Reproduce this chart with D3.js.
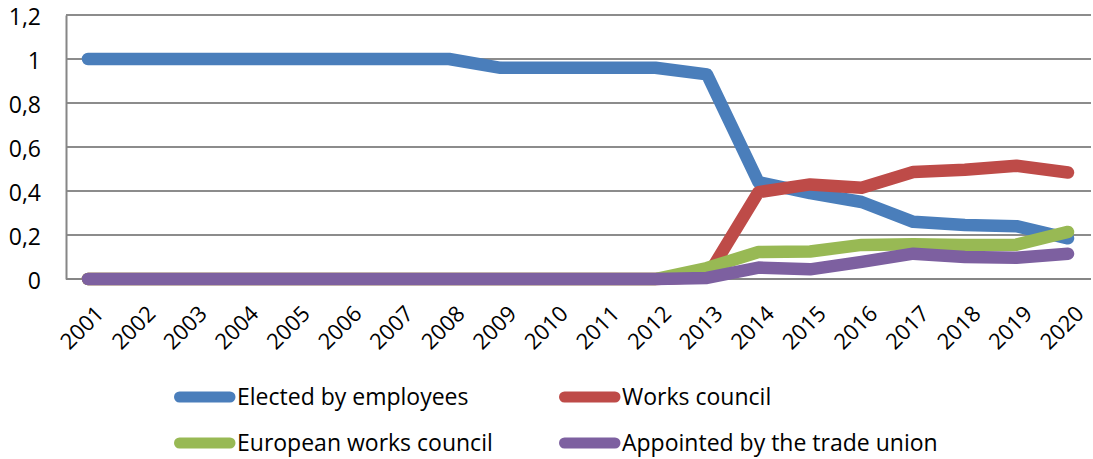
<!DOCTYPE html>
<html>
<head>
<meta charset="utf-8">
<script src="https://cdn.jsdelivr.net/npm/d3@7"></script>
<style>
  body { margin: 0; background: #fff; }
  svg { display: block; font-family: "Open Sans", Lato, sans-serif; }
</style>
</head>
<body>
<svg id="chart" width="1093" height="459"></svg>
<script>
// data
const years = ["2001","2002","2003","2004","2005","2006","2007","2008","2009","2010",
               "2011","2012","2013","2014","2015","2016","2017","2018","2019","2020"];
const elected  = [1,1,1,1,1,1,1,1,0.96,0.96,0.96,0.96,0.93,0.44,0.39,0.35,0.26,0.245,0.24,0.185];
const works    = [0,0,0,0,0,0,0,0,0,0,0,0,0.01,0.395,0.43,0.415,0.486,0.497,0.515,0.484];
const european = [0,0,0,0,0,0,0,0,0,0,0,0,0.05,0.123,0.125,0.155,0.158,0.155,0.156,0.214];
const union    = [0,0,0,0,0,0,0,0,0,0,0,0,0.005,0.052,0.044,0.078,0.115,0.1,0.097,0.115];
const yTicks = [0, 0.2, 0.4, 0.6, 0.8, 1, 1.2];

const series = [
  {name: "Elected by employees", values: elected, color: "#4a7ebb"},
  {name: "Works council", values: works, color: "#be4b48"},
  {name: "European works council", values: european, color: "#98b954"},
  {name: "Appointed by the trade union", values: union, color: "#7d60a0"}
];

const svg = d3.select("#chart");
const plotLeft = 66, plotRight = 1091, plotTop = 15, plotBottom = 279;

const x = d3.scalePoint().domain(years).range([88, 1068]);
const y = d3.scaleLinear().domain([0, 1.2]).range([plotBottom, plotTop]);
const fmt = d => String(d).replace(".", ",");

// gridlines
svg.append("g")
  .selectAll("line")
  .data(yTicks.filter(d => d > 0))
  .join("line")
  .attr("x1", plotLeft).attr("x2", plotRight)
  .attr("y1", d => y(d)).attr("y2", d => y(d))
  .attr("stroke", "#8c8c8c")
  .attr("stroke-width", 2);

// y axis
const yAxis = svg.append("g")
  .attr("transform", `translate(${plotLeft},0)`)
  .call(d3.axisLeft(y).tickValues(yTicks).tickFormat(fmt).tickSize(0).tickPadding(25));
yAxis.select(".domain").attr("stroke", "#868686").attr("stroke-width", 2);
yAxis.selectAll("text")
  .attr("font-size", 23)
  .attr("fill", "#000")
  .attr("dy", "0.42em")
  .attr("font-family", "'Open Sans', sans-serif");

// x axis line at 0
svg.append("line")
  .attr("x1", plotLeft).attr("x2", plotRight)
  .attr("y1", y(0)).attr("y2", y(0))
  .attr("stroke", "#868686").attr("stroke-width", 2);

// x labels, rotated; anchor sits at the top-right corner of the text
svg.append("g")
  .selectAll("text")
  .data(years)
  .join("text")
  .attr("transform", d => `translate(${x(d) + 6},${y(0) + 25}) rotate(-45)`)
  .attr("text-anchor", "end")
  .attr("dy", "0.72em")
  .attr("font-size", 22)
  .text(d => d);

// lines
const line = d3.line()
  .x((d, i) => x(years[i]))
  .y(d => y(d));

svg.append("g")
  .selectAll("path")
  .data(series)
  .join("path")
  .attr("d", d => line(d.values))
  .attr("fill", "none")
  .attr("stroke", d => d.color)
  .attr("stroke-width", 12.5)
  .attr("stroke-linecap", "round")
  .attr("stroke-linejoin", "round");

// legend
const legendPos = [[174, 397], [559, 397], [174, 443], [559, 443]];
const legend = svg.append("g")
  .selectAll("g")
  .data(series)
  .join("g")
  .attr("transform", (d, i) => `translate(${legendPos[i][0]},${legendPos[i][1]})`);

legend.append("line")
  .attr("x1", 5.5).attr("x2", 56)
  .attr("stroke", d => d.color)
  .attr("stroke-width", 11)
  .attr("stroke-linecap", "round");

legend.append("text")
  .attr("x", 63)
  .attr("dy", "0.36em")
  .attr("font-size", 23)
  .text(d => d.name);
</script>
</body>
</html>
